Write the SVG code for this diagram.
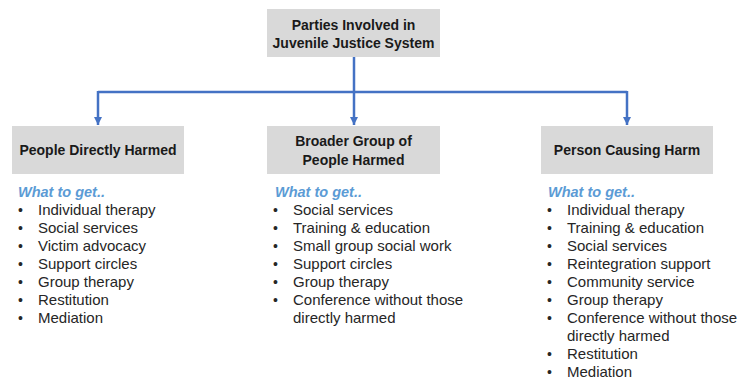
<svg xmlns="http://www.w3.org/2000/svg" width="737" height="381" viewBox="0 0 737 381">
<defs>
<marker id="ah" viewBox="0 0 10 10" refX="10" refY="5" markerWidth="3.2" markerHeight="3.2" orient="auto" markerUnits="strokeWidth">
<path d="M0,0 L10,5 L0,10 Z" fill="#4472C4"/>
</marker>
<style>
.box{fill:#D9D9D9;}
.title{font-family:"Liberation Sans",Arial,sans-serif;font-weight:bold;font-size:14px;fill:#1a1a1a;text-anchor:middle;}
.head{font-family:"Liberation Sans",Arial,sans-serif;font-weight:bold;font-style:italic;font-size:14.5px;fill:#5B9BD5;}
.item{font-family:"Liberation Sans",Arial,sans-serif;font-size:15px;fill:#262626;}
.bul{font-family:"Liberation Sans",Arial,sans-serif;font-size:14px;fill:#262626;}
.conn{fill:none;stroke:#4472C4;stroke-width:2.5;}
</style>
</defs>
<rect width="737" height="381" fill="#FFFFFF"/>
<g id="connectors">
<path class="conn" d="M354,57 V92"/>
<path class="conn" d="M98,92 H627"/>
<path class="conn" d="M98,91 V125" marker-end="url(#ah)"/>
<path class="conn" d="M354,92 V125" marker-end="url(#ah)"/>
<path class="conn" d="M627,91 V125" marker-end="url(#ah)"/>
</g>
<g id="root">
<rect class="box" x="267" y="9" width="173" height="48"/>
<text class="title" x="353.5" y="30" font-size="13.5">Parties Involved in</text>
<text class="title" x="353.5" y="48" font-size="13.5">Juvenile Justice System</text>
</g>
<g id="directly-harmed">
<rect class="box" x="12" y="126" width="172" height="48"/>
<text class="title" x="98" y="155">People Directly Harmed</text>
<text class="head" x="18" y="197">What to get..</text>
<g>
<text class="bul" x="18" y="215">•</text><text class="item" x="38" y="215">Individual therapy</text>
<text class="bul" x="18" y="233">•</text><text class="item" x="38" y="233">Social services</text>
<text class="bul" x="18" y="251">•</text><text class="item" x="38" y="251">Victim advocacy</text>
<text class="bul" x="18" y="269">•</text><text class="item" x="38" y="269">Support circles</text>
<text class="bul" x="18" y="287">•</text><text class="item" x="38" y="287">Group therapy</text>
<text class="bul" x="18" y="305">•</text><text class="item" x="38" y="305">Restitution</text>
<text class="bul" x="18" y="323">•</text><text class="item" x="38" y="323">Mediation</text>
</g>
</g>
<g id="broader-group">
<rect class="box" x="267" y="126" width="173" height="48"/>
<text class="title" x="353.5" y="146">Broader Group of</text>
<text class="title" x="353.5" y="165">People Harmed</text>
<text class="head" x="275" y="197">What to get..</text>
<g>
<text class="bul" x="273" y="215">•</text><text class="item" x="293" y="215">Social services</text>
<text class="bul" x="273" y="233">•</text><text class="item" x="293" y="233">Training &amp; education</text>
<text class="bul" x="273" y="251">•</text><text class="item" x="293" y="251">Small group social work</text>
<text class="bul" x="273" y="269">•</text><text class="item" x="293" y="269">Support circles</text>
<text class="bul" x="273" y="287">•</text><text class="item" x="293" y="287">Group therapy</text>
<text class="bul" x="273" y="305">•</text><text class="item" x="293" y="305">Conference without those</text>
<text class="item" x="293" y="323">directly harmed</text>
</g>
</g>
<g id="causing-harm">
<rect class="box" x="541" y="126" width="172" height="48"/>
<text class="title" x="627" y="155">Person Causing Harm</text>
<text class="head" x="548" y="197">What to get..</text>
<g>
<text class="bul" x="547" y="215">•</text><text class="item" x="567" y="215">Individual therapy</text>
<text class="bul" x="547" y="233">•</text><text class="item" x="567" y="233">Training &amp; education</text>
<text class="bul" x="547" y="251">•</text><text class="item" x="567" y="251">Social services</text>
<text class="bul" x="547" y="269">•</text><text class="item" x="567" y="269">Reintegration support</text>
<text class="bul" x="547" y="287">•</text><text class="item" x="567" y="287">Community service</text>
<text class="bul" x="547" y="305">•</text><text class="item" x="567" y="305">Group therapy</text>
<text class="bul" x="547" y="323">•</text><text class="item" x="567" y="323">Conference without those</text>
<text class="item" x="567" y="341">directly harmed</text>
<text class="bul" x="547" y="359">•</text><text class="item" x="567" y="359">Restitution</text>
<text class="bul" x="547" y="377">•</text><text class="item" x="567" y="377">Mediation</text>
</g>
</g>
</svg>
